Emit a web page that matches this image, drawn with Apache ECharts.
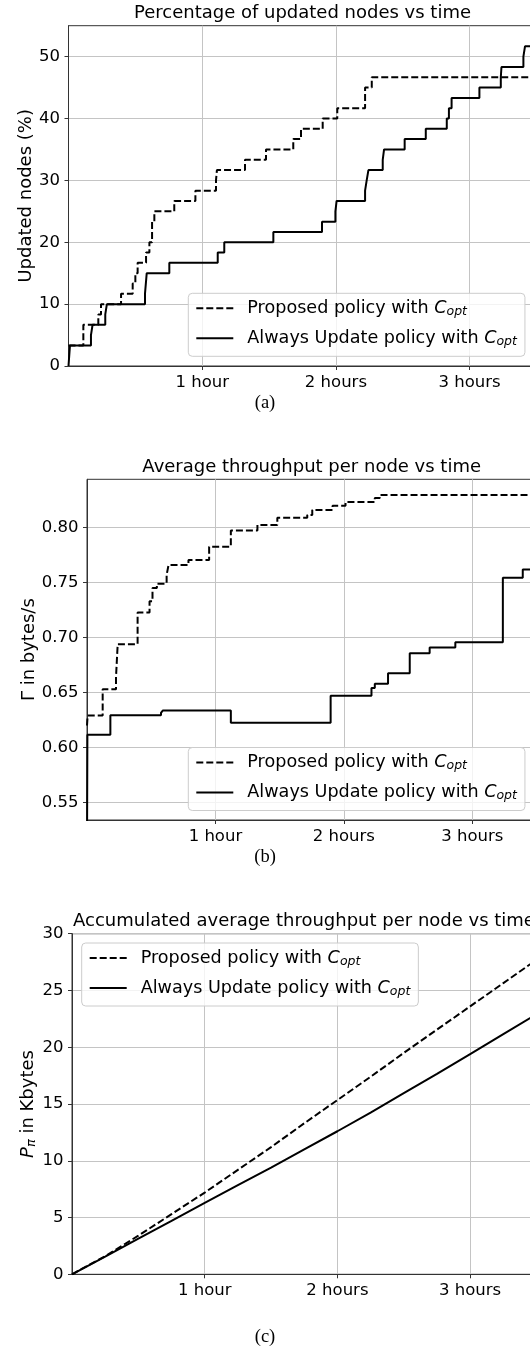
<!DOCTYPE html>
<html lang="en">
<head>
<meta charset="UTF-8">
<title>Updated nodes and throughput vs time</title>
<script src="https://cdn.jsdelivr.net/npm/echarts@6/dist/echarts.min.js"></script>
<style>
  html, body { margin: 0; padding: 0; background: #fff; }
  #chart { width: 530px; height: 1353px; }
</style>
</head>
<body>
<div id="chart"></div>
<script>
// legend names (C_opt is drawn with a rich-text subscript)
var seriesNames = ['Proposed policy with C_opt', 'Always Update policy with C_opt'];
// x tick positions (hours) and their labels
var xTicks = [1, 2, 3];
var xTickLabels = ['1 hour', '2 hours', '3 hours'];
var yTicksA = [0, 10, 20, 30, 40, 50];
var yTicksB = [0.55, 0.60, 0.65, 0.70, 0.75, 0.80];
var yTicksC = [0, 5, 10, 15, 20, 25, 30];

// (a) percentage of updated nodes, time in hours -> value holds until next time
var propTimeA = [0, 0.111, 0.223, 0.243, 0.393, 0.48, 0.50, 0.517, 0.58, 0.605, 0.625, 0.642, 0.791, 0.949, 1.103, 1.11, 1.32, 1.477, 1.681, 1.739, 1.901, 2.01, 2.218, 2.268, 3.5];
var propPctA  = [3.33, 6.67, 8.33, 10, 11.67, 13.33, 15, 16.67, 18.33, 20, 23.33, 25, 26.67, 28.33, 30, 31.67, 33.33, 35, 36.67, 38.33, 40, 41.67, 45, 46.67, 46.67];
var alwTimeA  = [0, 0.011, 0.168, 0.18, 0.275, 0.287, 0.572, 0.585, 0.754, 1.116, 1.165, 1.532, 1.896, 1.996, 2.005, 2.218, 2.23, 2.243, 2.35, 2.36, 2.514, 2.672, 2.829, 2.845, 2.865, 3.073, 3.233, 3.238, 3.402, 3.414, 3.5];
var alwPctA   = [0, 3.33, 5, 6.67, 8.33, 10, 11.67, 15, 16.67, 18.33, 20, 21.67, 23.33, 25, 26.67, 28.33, 30, 31.67, 33.33, 35, 36.67, 38.33, 40, 41.67, 43.33, 45, 46.67, 48.33, 50, 51.67, 51.67];

// (b) average throughput per node (bytes/s)
var propTimeB = [0, 0.005, 0.122, 0.226, 0.239, 0.394, 0.487, 0.51, 0.544, 0.62, 0.635, 0.79, 0.951, 1.12, 1.327, 1.482, 1.715, 1.754, 1.912, 2.013, 2.241, 2.28, 3.5];
var propThrB  = [0.62, 0.629, 0.653, 0.6645, 0.694, 0.7227, 0.733, 0.745, 0.749, 0.757, 0.766, 0.7706, 0.7827, 0.7975, 0.8025, 0.8091, 0.8115, 0.8161, 0.820, 0.8234, 0.827, 0.8297, 0.8297];
var alwTimeB  = [0, 0.003, 0.182, 0.576, 0.59, 1.12, 1.897, 2.215, 2.241, 2.344, 2.513, 2.668, 2.868, 3.238, 3.393, 3.5];
var alwThrB   = [0.5, 0.6115, 0.6294, 0.6315, 0.6336, 0.6225, 0.647, 0.654, 0.658, 0.6676, 0.6858, 0.6909, 0.6958, 0.7545, 0.762, 0.762];

// (c) accumulated average throughput per node (Kbytes)
var timeC    = [0, 0.25, 0.5, 0.75, 1, 1.25, 1.5, 1.75, 2, 2.25, 2.5, 2.75, 3, 3.25, 3.5];
var propAccC = [0, 1.6, 3.4, 5.3, 7.2, 9.2, 11.2, 13.3, 15.35, 17.4, 19.5, 21.55, 23.6, 25.65, 27.7];
var alwAccC  = [0, 1.55, 3.15, 4.7, 6.3, 7.85, 9.4, 11.0, 12.6, 14.25, 15.95, 17.65, 19.4, 21.15, 22.9];

var FONT = 'DejaVu Sans';
var TICK_FS = 16.5;
var TEXT_FS = 18;
var LEG_FS = 17.6;
var gridColor = '#c4c4c4';
var spineColor = '#333';

function pairs(xs, ys) {
  var out = [];
  for (var i = 0; i < xs.length; i++) out.push([xs[i], ys[i]]);
  return out;
}

function lineSeries(name, idx, data, dashed, step) {
  return {
    name: name,
    type: 'line',
    xAxisIndex: idx,
    yAxisIndex: idx,
    data: data,
    step: step ? 'end' : false,
    symbol: 'none',
    animation: false,
    lineStyle: { color: '#000', width: 2, type: dashed ? [7, 3] : 'solid' },
    itemStyle: { color: '#000' }
  };
}

function xAxisFor(idx) {
  return {
    type: 'value',
    gridIndex: idx,
    min: 0,
    max: 3.5,
    interval: 1,
    axisLine: { show: true, onZero: false, lineStyle: { color: spineColor, width: 1 } },
    axisTick: { show: true, length: 4, customValues: xTicks, lineStyle: { color: spineColor } },
    axisLabel: {
      margin: 8, color: '#000', fontSize: TICK_FS, fontFamily: FONT, customValues: xTicks,
      formatter: function (v) { var i = xTicks.indexOf(v); return i >= 0 ? xTickLabels[i] : ''; }
    },
    splitLine: { show: true, lineStyle: { color: gridColor, width: 1 } }
  };
}

function yAxisFor(idx, ticks, opts) {
  var ax = {
    type: 'value',
    gridIndex: idx,
    nameLocation: 'middle',
    nameRotate: 90,
    nameMoveOverlap: false,
    axisLine: { show: true, onZero: false, lineStyle: { color: spineColor, width: 1 } },
    axisTick: { show: true, length: 4, customValues: ticks, lineStyle: { color: spineColor } },
    axisLabel: { margin: 8.5, color: '#000', fontSize: TICK_FS, fontFamily: FONT, customValues: ticks },
    splitLine: { show: true, lineStyle: { color: gridColor, width: 1 } },
    nameTextStyle: { color: '#000', fontSize: TEXT_FS, fontFamily: FONT }
  };
  for (var k in opts) ax[k] = opts[k];
  return ax;
}

var richLegend = {
  n: { fontSize: LEG_FS, lineHeight: 20, fontFamily: FONT, color: '#000' },
  c: { fontSize: LEG_FS, lineHeight: 20, fontFamily: FONT, fontStyle: 'italic', color: '#000' },
  s: { fontSize: 12.5, lineHeight: 13, fontFamily: FONT, fontStyle: 'italic', color: '#000', padding: [7, 0, 0, 0] }
};

function legendAt(left, top) {
  return {
    left: left,
    top: top,
    orient: 'vertical',
    selectedMode: false,
    data: seriesNames,
    itemWidth: 37,
    itemHeight: 14,
    itemGap: 10,
    padding: [5, 8, 8, 7],
    borderColor: '#cccccc',
    borderWidth: 1,
    borderRadius: 4,
    backgroundColor: 'rgba(255,255,255,0.8)',
    itemStyle: { opacity: 0 },
    textStyle: { fontSize: LEG_FS, fontFamily: FONT, color: '#000', padding: [0, 0, 0, 9], rich: richLegend },
    formatter: function (name) {
      return '{n|' + name.replace('C_opt', '') + '}{c|C}{s|opt}';
    }
  };
}

function titleAt(text, cx, top) {
  return {
    text: text,
    left: cx,
    top: top,
    textAlign: 'center',
    padding: 0,
    textStyle: { fontSize: TEXT_FS, fontWeight: 'normal', color: '#000', fontFamily: FONT }
  };
}

function caption(text, y) {
  return {
    type: 'text',
    x: 265,
    y: y,
    style: {
      text: text, fontSize: 18.5, fontFamily: 'Liberation Serif', fill: '#000',
      align: 'center', verticalAlign: 'middle', textAlign: 'center', textVerticalAlign: 'middle'
    }
  };
}

function gridBox(left, top, width, height) {
  return {
    left: left, top: top, width: width, height: height,
    show: true, borderColor: spineColor, borderWidth: 1,
    outerBoundsMode: 'none', containLabel: false
  };
}

var chart = echarts.init(document.getElementById('chart'), null, { renderer: 'canvas' });

var option = {
  animation: false,
  backgroundColor: '#fff',
  title: [
    titleAt('Percentage of updated nodes vs time', 302.5, 4.5),
    titleAt('Average throughput per node vs time', 311.7, 458.5),
    titleAt('Accumulated average throughput per node vs time', 304, 912)
  ],
  grid: [
    gridBox(68.5, 25.7, 468, 340.3),
    gridBox(87, 479.3, 449.5, 340.7),
    gridBox(72, 933.7, 464.5, 340.6)
  ],
  xAxis: [xAxisFor(0), xAxisFor(1), xAxisFor(2)],
  yAxis: [
    yAxisFor(0, yTicksA, { min: 0, max: 55, interval: 10, name: 'Updated nodes (%)', nameGap: 33 }),
    yAxisFor(1, yTicksB, { min: 0.534, max: 0.844, splitNumber: 6, name: 'Γ in bytes/s', nameGap: 49,
      axisLabel: { margin: 8.5, color: '#000', fontSize: TICK_FS, fontFamily: FONT, customValues: yTicksB,
        formatter: function (v) { return v.toFixed(2); } } }),
    yAxisFor(2, yTicksC, { min: 0, max: 30, interval: 5, name: '{i|P}{s|π}{n| in Kbytes}', nameGap: 34,
      nameTextStyle: { color: '#000', fontSize: TEXT_FS, fontFamily: FONT, rich: {
        i: { fontSize: TEXT_FS, lineHeight: 20, fontFamily: FONT, fontStyle: 'italic', color: '#000' },
        s: { fontSize: 13, lineHeight: 13, fontFamily: FONT, fontStyle: 'italic', color: '#000', padding: [7, 0, 0, 0] },
        n: { fontSize: TEXT_FS, lineHeight: 20, fontFamily: FONT, color: '#000' }
      } } })
  ],
  legend: [
    legendAt(188.3, 293.3),
    legendAt(188.3, 747.5),
    legendAt(81.7, 943)
  ],
  series: [
    lineSeries(seriesNames[0], 0, pairs(propTimeA, propPctA), true, true),
    lineSeries(seriesNames[1], 0, pairs(alwTimeA, alwPctA), false, true),
    lineSeries(seriesNames[0], 1, pairs(propTimeB, propThrB), true, true),
    lineSeries(seriesNames[1], 1, pairs(alwTimeB, alwThrB), false, true),
    lineSeries(seriesNames[0], 2, pairs(timeC, propAccC), true, false),
    lineSeries(seriesNames[1], 2, pairs(timeC, alwAccC), false, false)
  ],
  graphic: [
    caption('(a)', 403),
    caption('(b)', 857),
    caption('(c)', 1337)
  ]
};

chart.setOption(option);
</script>
</body>
</html>
